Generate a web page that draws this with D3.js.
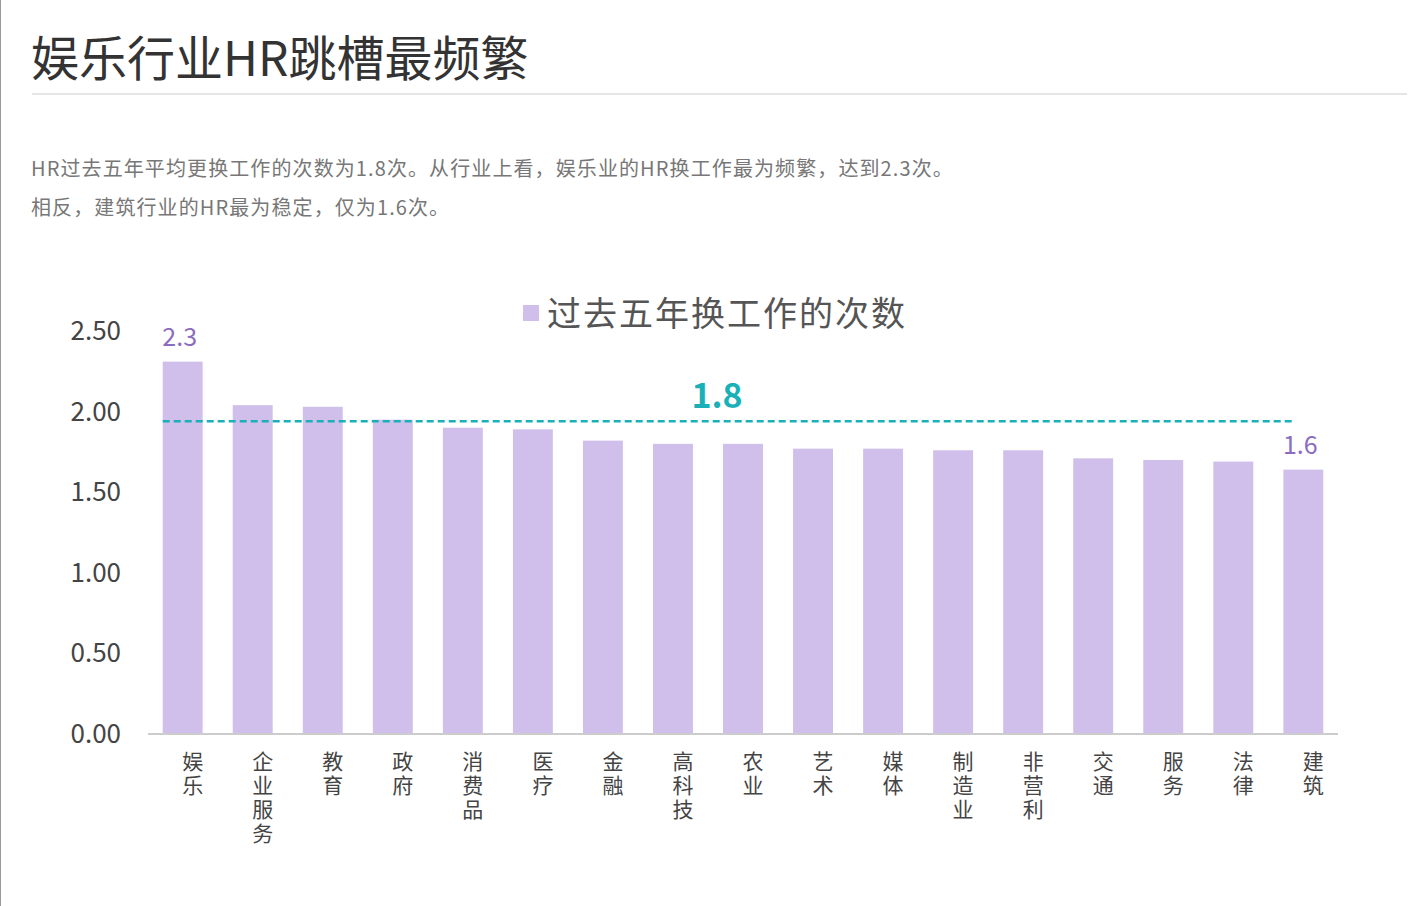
<!DOCTYPE html>
<html><head><meta charset="utf-8">
<script src="https://cdn.jsdelivr.net/npm/d3@7"></script>
<style>body{margin:0;background:#fff;font-family:"Noto Sans CJK SC","Noto Sans",sans-serif}</style>
</head><body><svg id="c" width="1427" height="906"></svg>
<script>
const categories=["娱乐","企业服务","教育","政府","消费品","医疗","金融","高科技","农业","艺术","媒体","制造业","非营利","交通","服务","法律","建筑"];
const values=[2.31,2.04,2.03,1.95,1.90,1.89,1.82,1.80,1.80,1.77,1.77,1.76,1.76,1.71,1.70,1.69,1.64];
const yTicks=[0,0.5,1,1.5,2,2.5];
const avgValue=1.94, avgLabel="1.8";
const valueLabels=[{i:0,t:"2.3"},{i:16,t:"1.6"}];
const title="娱乐行业HR跳槽最频繁";
const sub=["HR过去五年平均更换工作的次数为1.8次。从行业上看，娱乐业的HR换工作最为频繁，达到2.3次。","相反，建筑行业的HR最为稳定，仅为1.6次。"];
const legendText="过去五年换工作的次数";

const svg=d3.select("#c");
svg.append("line").attr("x1",0.5).attr("x2",0.5).attr("y1",0).attr("y2",906).attr("stroke","#999");
svg.append("text").attr("x",31).attr("y",76).attr("font-size",48).attr("fill","#333").text(title);
svg.append("line").attr("x1",32).attr("x2",1407).attr("y1",94).attr("y2",94).attr("stroke","#ddd").attr("stroke-width",1.5);
sub.forEach((s,i)=>svg.append("text").attr("x",31).attr("y",176+i*39).attr("font-size",20).attr("letter-spacing",1.1).attr("fill","#777").text(s));

const x=d3.scaleBand().domain(categories).range([148,1338]).paddingInner(0.43).paddingOuter(0.21);
const y=d3.scaleLinear().domain([0,2.5]).range([734,331]);
const col="#cfbfea";
svg.selectAll("rect.b").data(values).join("rect").attr("x",(d,i)=>x(categories[i])).attr("width",x.bandwidth())
 .attr("y",d=>y(d)).attr("height",d=>y(0)-y(d)).attr("fill",col);
svg.append("line").attr("x1",148).attr("x2",1338).attr("y1",734).attr("y2",734).attr("stroke","#ccc").attr("stroke-width",2);
yTicks.forEach(t=>svg.append("text").attr("x",121).attr("y",y(t)+9).attr("text-anchor","end").attr("font-size",26).attr("fill","#444").text(t.toFixed(2)));
categories.forEach(c=>{[...c].forEach((ch,j)=>svg.append("text").attr("x",x(c)+x.bandwidth()/2+10).attr("y",769+j*24).attr("text-anchor","middle").attr("font-size",21).attr("fill","#444").text(ch));});
svg.append("line").attr("x1",x(categories[0])).attr("x2",x(categories[16])+10).attr("y1",y(avgValue)).attr("y2",y(avgValue))
 .attr("stroke","#1ab0b8").attr("stroke-width",2.5).attr("stroke-dasharray","7,4");
svg.append("text").attr("x",717).attr("y",408).attr("text-anchor","middle").attr("font-size",34).attr("font-weight","bold").attr("fill","#1ab0b8").text(avgLabel);
valueLabels.forEach(v=>svg.append("text").attr("x",x(categories[v.i])+x.bandwidth()/2-3).attr("y",y(values[v.i])-16).attr("text-anchor","middle").attr("font-size",25).attr("fill","#8a6cc0").text(v.t));
svg.append("rect").attr("x",523).attr("y",305).attr("width",16).attr("height",16).attr("fill",col);
svg.append("text").attr("x",547).attr("y",326).attr("font-size",34).attr("letter-spacing",2).attr("fill","#555").text(legendText);
</script></body></html>
